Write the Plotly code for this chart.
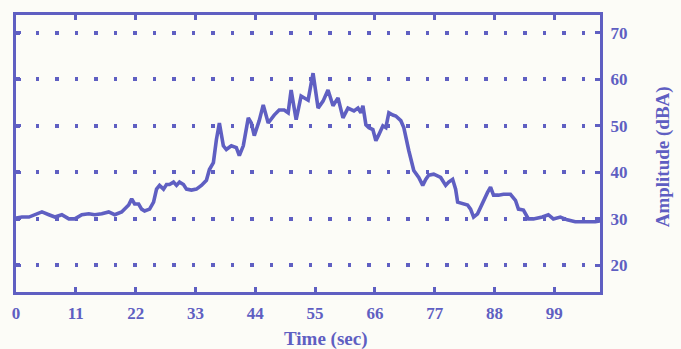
import plotly.graph_objects as go

# Time (sec)
time_sec = [0, 1.1, 2.38, 3.48, 4.77, 6.05, 7.15, 8.43, 9.72, 10.82, 12.1, 13.38, 14.48, 15.77,
            17.05, 18.15, 19.43, 20.72, 21.27, 21.82, 22.55, 23.1, 23.65, 24.57, 25.3, 25.85,
            26.4, 27.13, 27.68, 28.23, 28.97, 29.52, 30.07, 30.8, 31.35, 32.27, 33.18, 34.1,
            35.02, 35.57, 36.3, 36.85, 37.4, 38.13, 38.68, 39.6, 40.52, 41.07, 41.8, 42.72,
            43.27, 43.82, 44.73, 45.47, 46.38, 47.48, 48.4, 49.32, 50.05, 50.6, 51.52, 52.43,
            53.72, 54.63, 55.55, 56.47, 57.38, 58.3, 59.22, 60.13, 61.05, 62.15, 62.88, 63.43,
            63.8, 64.35, 64.9, 65.63, 66.18, 66.73, 67.47, 68.02, 68.57, 69.3, 69.85, 70.77,
            71.32, 72.23, 73.15, 74.07, 74.8, 75.35, 75.9, 76.82, 78.1, 79.02, 79.57, 80.3,
            80.85, 81.22, 82.13, 83.05, 83.6, 84.15, 84.88, 85.8, 86.72, 87.27, 87.82, 88.73,
            89.65, 90.93, 91.85, 92.4, 93.32, 94.23, 95.15, 96.8, 97.9, 98.82, 100.1, 101.38,
            102.85, 105.05, 106.52, 107.43]

# Amplitude (dBA)
amplitude_dba = [30.2, 30.4, 30.4, 30.9, 31.5, 30.9, 30.4, 30.9, 30.0, 30.0, 30.9, 31.1, 30.9, 31.1,
                 31.5, 30.9, 31.5, 33.0, 34.3, 33.2, 33.2, 32.1, 31.7, 32.1, 33.6, 36.4,
                 37.2, 36.4, 37.4, 37.4, 37.9, 37.2, 37.9, 37.4, 36.4, 36.2, 36.4, 37.2,
                 38.3, 40.6, 42.1, 47.0, 50.6, 45.7, 44.9, 45.7, 45.3, 43.6, 45.7, 51.7,
                 50.6, 47.9, 51.1, 54.5, 50.6, 52.3, 53.4, 53.4, 52.8, 57.7, 51.3, 56.4,
                 55.5, 61.3, 53.8, 55.3, 57.7, 54.3, 56.0, 51.7, 53.8, 53.2, 53.8, 52.8,
                 54.3, 50.2, 49.6, 49.2, 46.8, 48.1, 50.0, 49.6, 52.8, 52.3, 52.1, 51.1,
                 49.6, 44.7, 40.4, 38.9, 37.2, 38.5, 39.4, 39.6, 38.9, 37.2, 37.9, 38.5,
                 36.4, 33.6, 33.2, 33.0, 32.1, 30.4, 31.1, 33.6, 35.7, 36.8, 35.1, 35.1,
                 35.3, 35.3, 34.0, 32.1, 31.9, 30.0, 30.0, 30.4, 30.9, 30.0, 30.4, 29.8,
                 29.4, 29.4, 29.4, 29.6]

x_ticks = [0, 11, 22, 33, 44, 55, 66, 77, 88, 99]
y_ticks = [20, 30, 40, 50, 60, 70]

INK = "#5f5fc2"
BG = "#fcfcf7"
FONT = dict(family="Liberation Serif", size=17, color=INK, weight="bold")
TITLE_FONT = dict(family="Liberation Serif", size=19, color=INK, weight="bold")

fig = go.Figure()
fig.add_trace(go.Scatter(x=time_sec, y=amplitude_dba, mode="lines",
                         line=dict(color=INK, width=3.6), showlegend=False))

fig.update_layout(
    width=681, height=349,
    margin=dict(l=14, r=81, t=12, b=57),
    paper_bgcolor=BG, plot_bgcolor=BG,
    font=FONT,
    xaxis=dict(range=[0, 107.4], tickvals=x_ticks, ticktext=[str(v) for v in x_ticks],
               showgrid=False, zeroline=False,
               showline=True, linecolor=INK, linewidth=3, mirror="allticks",
               ticks="inside", ticklen=5, tickwidth=2.5, tickcolor=INK,
               tickfont=FONT, ticklabelstandoff=4),
    yaxis=dict(range=[14.3, 73.8], tickvals=y_ticks, side="right",
               showgrid=True, gridcolor=INK, gridwidth=3.5, griddash="3.5px,16px",
               zeroline=False,
               showline=True, linecolor=INK, linewidth=3, mirror="allticks",
               ticks="inside", ticklen=5, tickwidth=3, tickcolor=INK,
               tickfont=FONT, ticklabelstandoff=4),
    annotations=[
        dict(text="Time (sec)", xref="paper", yref="paper", x=0.531, y=-0.171,
             xanchor="center", yanchor="middle", showarrow=False, font=TITLE_FONT),
        dict(text="Amplitude (dBA)", xref="paper", yref="paper", x=1.1075, y=0.489,
             xanchor="center", yanchor="middle", textangle=-90, showarrow=False,
             font=TITLE_FONT),
    ],
)

fig.write_html("out.html")
